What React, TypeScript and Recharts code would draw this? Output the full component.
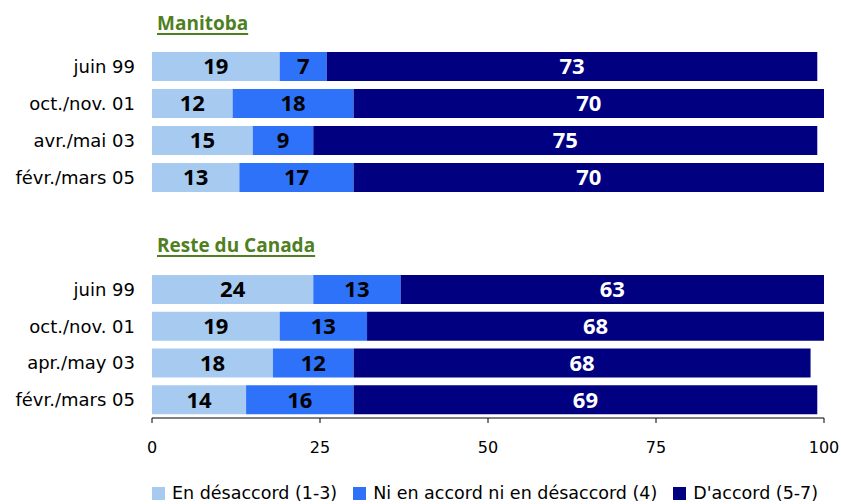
import React from 'react';
import { BarChart, Bar, XAxis, YAxis, Legend, LabelList } from 'recharts';

const periodsManitoba = ['juin 99', 'oct./nov. 01', 'avr./mai 03', 'févr./mars 05'];
const disagreeManitoba = [19, 12, 15, 13];
const neutralManitoba = [7, 18, 9, 17];
const agreeManitoba = [73, 70, 75, 70];

const periodsCanada = ['juin 99', 'oct./nov. 01', 'apr./may 03', 'févr./mars 05'];
const disagreeCanada = [24, 19, 18, 14];
const neutralCanada = [13, 13, 12, 16];
const agreeCanada = [63, 68, 68, 69];

const xTicks = [0, 25, 50, 75, 100];

const seriesNames = ['En désaccord (1-3)', 'Ni en accord ni en désaccord (4)', "D'accord (5-7)"];
const colors = ['#A6CAF0', '#2E72FA', '#000080'];

const FONT = '"DejaVu Sans", sans-serif';
const BOLD_FONT = '"Open Sans", "DejaVu Sans", sans-serif';

function buildRows(periods: string[], a: number[], b: number[], c: number[]) {
  return periods.map((period, i) => ({ period, disagree: a[i], neutral: b[i], agree: c[i] }));
}

const manitobaRows = buildRows(periodsManitoba, disagreeManitoba, neutralManitoba, agreeManitoba);
const canadaRows = buildRows(periodsCanada, disagreeCanada, neutralCanada, agreeCanada);

const labelStyle = { fontFamily: BOLD_FONT, fontSize: 22, fontWeight: 700 };

function Series() {
  const keys = ['disagree', 'neutral', 'agree'];
  return keys.map((key, i) => (
    <Bar key={key} dataKey={key} name={seriesNames[i]} stackId="s" fill={colors[i]} barSize={29} isAnimationActive={false}>
      <LabelList dataKey={key} position="center" fill={i === 2 ? '#ffffff' : '#000000'} style={labelStyle} />
    </Bar>
  ));
}

// ticks hang down from the axis, labels well below
function AxisTick(props: any) {
  const { x, y, payload } = props;
  return (
    <g>
      <line x1={x} x2={x} y1={y - 24} y2={y - 19} stroke="#000" />
      <text x={x} y={y} dy="0.71em" textAnchor="middle" fontFamily={FONT} fontSize={16} fill="#000">
        {payload.value}
      </text>
    </g>
  );
}

function LegendContent() {
  return (
    <div
      style={{
        display: 'flex',
        paddingLeft: 152,
        paddingTop: 8,
        width: 841,
        boxSizing: 'border-box',
        whiteSpace: 'nowrap',
        fontFamily: FONT,
        fontSize: 17.5,
        lineHeight: '22px',
        color: '#000',
      }}
    >
      {seriesNames.map((name, i) => (
        <div key={name} style={{ display: 'flex', alignItems: 'center', marginRight: 16, flexShrink: 0 }}>
          <span style={{ width: 13, height: 13, background: colors[i], display: 'inline-block', marginRight: 7 }} />
          <span>{name}</span>
        </div>
      ))}
    </div>
  );
}

const titleStyle: React.CSSProperties = {
  position: 'absolute',
  left: 157,
  fontFamily: BOLD_FONT,
  fontSize: 19,
  fontWeight: 700,
  color: '#4F7F1F',
  textDecoration: 'underline',
  textDecorationThickness: 2,
  textUnderlineOffset: 3,
  lineHeight: '24px',
};

const yTick = { fontFamily: FONT, fontSize: 18, fill: '#000' };

export default function App() {
  return (
    <div style={{ position: 'absolute', left: 0, top: 0, width: 841, height: 504, background: '#fff' }}>
      <div style={{ ...titleStyle, top: 11 }}>Manitoba</div>
      <div style={{ ...titleStyle, top: 233 }}>Reste du Canada</div>

      <div style={{ position: 'absolute', left: 0, top: 0 }}>
        <BarChart width={841} height={200} data={manitobaRows} layout="vertical" margin={{ top: 48, right: 17, bottom: 4, left: 0 }}>
          <XAxis type="number" domain={[0, 100]} ticks={xTicks} hide />
          <YAxis type="category" dataKey="period" width={152} tickLine={false} axisLine={false} tickSize={0} tickMargin={17} tick={yTick} />
          {Series()}
        </BarChart>
      </div>

      <div style={{ position: 'absolute', left: 0, top: 230 }}>
        <BarChart width={841} height={274} data={canadaRows} layout="vertical" margin={{ top: 41, right: 17, bottom: 0, left: 0 }}>
          <XAxis
            type="number"
            domain={[0, 100]}
            ticks={xTicks}
            height={56}
            tickLine={false}
            tickSize={0}
            tickMargin={24}
            axisLine={{ stroke: '#000' }}
            tick={<AxisTick />}
          />
          <YAxis type="category" dataKey="period" width={152} tickLine={false} axisLine={false} tickSize={0} tickMargin={17} tick={yTick} />
          {Series()}
          <Legend verticalAlign="bottom" height={30} wrapperStyle={{ left: 0, width: 841 }} content={<LegendContent />} />
        </BarChart>
      </div>
    </div>
  );
}
